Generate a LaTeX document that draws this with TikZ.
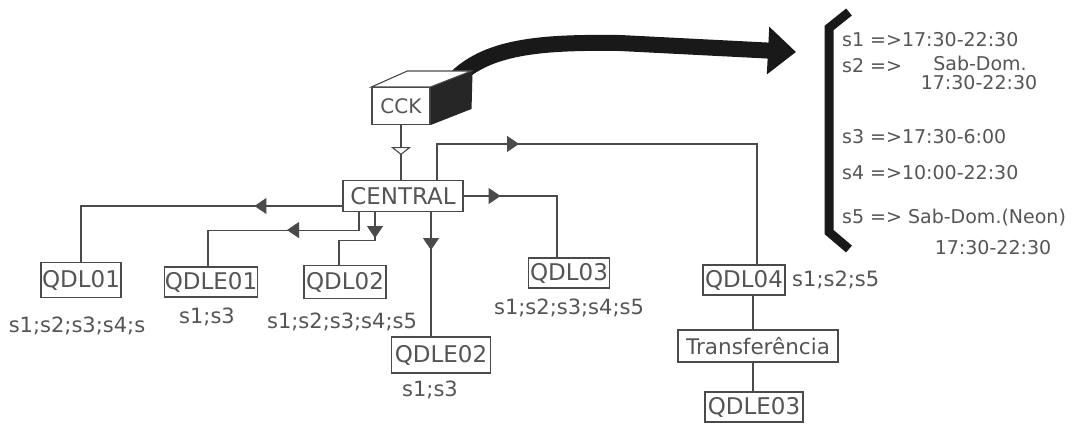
\documentclass[tikz,border=0pt]{standalone}
\usepackage{fontspec}
\setmainfont{DejaVu Sans}
\usetikzlibrary{arrows.meta,decorations.markings,calc}
\definecolor{ln}{HTML}{4A4A4A}
\definecolor{tx}{HTML}{555555}
\begin{document}
\begin{tikzpicture}[x=1pt,y=-1pt,
  bx/.style={draw=ln,line width=1.1pt,rectangle,inner sep=0pt,fill=white,text=tx,font=\fontsize{23}{25}\selectfont},
  lbl/.style={text=tx,inner sep=0pt,font=\fontsize{21}{23}\selectfont},
  rt/.style={text=tx,inner sep=0pt,anchor=west,font=\fontsize{19}{21}\selectfont},
  rtc/.style={text=tx,inner sep=0pt,font=\fontsize{19}{21}\selectfont},
  wire/.style={draw=ln,line width=1.1pt},
  marr/.style={postaction={decorate},decoration={markings,mark=at position #1 with {\arrow{Triangle[length=12pt,width=16pt]}}}},
  oarr/.style={postaction={decorate},decoration={markings,mark=at position #1 with {\arrow{Triangle[open,length=8pt,width=20pt,fill=white]}}}},
]
\useasboundingbox (0,0) rectangle (1086,424);

% big curved arrow
\coordinate (arrs) at (452,82);
\coordinate (arre) at (796,52);
\draw[line width=16pt,black!90,-{Triangle[length=28pt,width=46pt]}] (arrs) .. controls (485,46) and (540,42) .. (620,43) -- (arre);

% CCK cube
\node[bx,minimum width=58pt,minimum height=37pt,font=\fontsize{20}{22}\selectfont] (cck) at (401,106) {CCK};
\fill[black!85] (cck.north east) -- ++(42,-16) -- ++(-1,38) -- (cck.south east) -- cycle;
\filldraw[fill=white,draw=ln,line width=1.1pt] (cck.north west) -- ++(36,-16) -- ++(64,0) -- (cck.north east) -- cycle;

% bracket
\draw[line width=9pt,black!90,line join=miter] (849,12) -- (829,28) -- (829,232) -- (849,249);

% boxes
\node[bx,minimum width=120pt,minimum height=31pt] (central) at (403,196) {CENTRAL};
\node[bx,minimum width=80pt,minimum height=35pt] (qdl01) at (81,280) {QDL01};
\node[bx,minimum width=90pt,minimum height=30pt] (qdle01) at (211,282) {QDLE01};
\node[bx,minimum width=82pt,minimum height=33pt] (qdl02) at (345,282) {QDL02};
\node[bx,minimum width=81pt,minimum height=30pt] (qdl03) at (569,273) {QDL03};
\node[bx,minimum width=82pt,minimum height=30pt] (qdl04) at (744,280) {QDL04};
\node[bx,minimum width=160pt,minimum height=32pt,font=\fontsize{21.5}{23}\selectfont] (tr) at (758,346) {Transferência};
\node[bx,minimum width=99pt,minimum height=36pt] (qdle02) at (441,355) {QDLE02};
\node[bx,minimum width=98pt,minimum height=30pt] (qdle03) at (754,407) {QDLE03};

% labels
\node[lbl] (l01) at (77,326) {s1;s2;s3;s4;s};
\node[lbl] (le01) at (207,317) {s1;s3};
\node[lbl] (l02) at (342,322) {s1;s2;s3;s4;s5};
\node[lbl] (l03) at (569,308) {s1;s2;s3;s4;s5};
\node[lbl,anchor=west] (l04) at (792,280) {s1;s2;s5};
\node[lbl] (le02) at (430,390) {s1;s3};

% schedule texts
\node[rt] (r1) at (842,40) {s1 =>17:30-22:30};
\node[rt] (r2) at (842,66) {s2 =>};
\node[rtc] (r2a) at (980,63) {Sab-Dom.};
\node[rtc] (r2b) at (979,83) {17:30-22:30};
\node[rt] (r3) at (842,137) {s3 =>17:30-6:00};
\node[rt] (r4) at (842,173) {s4 =>10:00-22:30};
\node[rt] (r5) at (842,218) {s5 => Sab-Dom.(Neon)};
\node[rtc] (r5b) at (993,248) {17:30-22:30};

% connectors
\draw[wire,oarr=30pt] (cck.south) -- (cck.south |- central.north);
\draw[wire,marr=118pt] ([xshift=34pt]central.north) -- ++(0,-36) -| ([xshift=13pt]qdl04.north);
\draw[wire,marr=37pt] (central.east) -| ([xshift=-12pt]qdl03.north);
\draw[wire,marr=88pt] ([yshift=-10pt]central.west) -| (qdl01.north);
\draw[wire,marr=90pt] ([xshift=-44pt]central.south) -- ++(0,18) -| ([xshift=-3pt]qdle01.north);
\draw[wire,marr=26pt] ([xshift=-28pt]central.south) -- ++(0,28) -| ([xshift=-6pt]qdl02.north);
\draw[wire,marr=38pt] ([xshift=28pt]central.south) -- ([xshift=28pt]central.south |- qdle02.north);
\draw[wire] ([xshift=9pt]qdl04.south) -- ([xshift=9pt]qdl04.south |- tr.north);
\draw[wire] ([xshift=-5pt]tr.south) -- ([xshift=-5pt]tr.south |- qdle03.north);
\end{tikzpicture}
\end{document}
